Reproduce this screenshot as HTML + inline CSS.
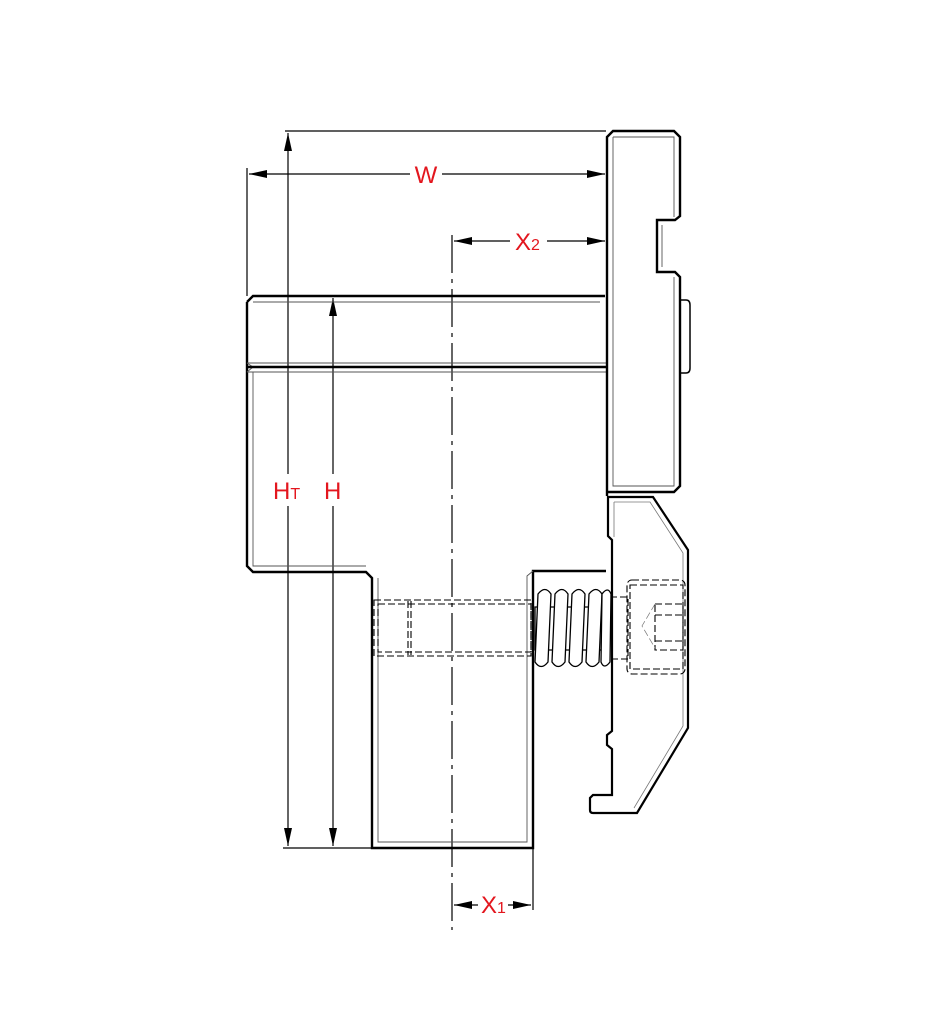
<!DOCTYPE html>
<html><head><style>
html,body{margin:0;padding:0;background:#fff;}
svg{display:block}
text{font-family:"Liberation Sans",sans-serif;fill:#e3161e;font-size:24px}
</style></head><body>
<svg width="936" height="1034" viewBox="0 0 936 1034" xmlns="http://www.w3.org/2000/svg">
<defs>
<marker id="a" viewBox="0 0 18 10" refX="18" refY="5" markerWidth="18" markerHeight="10" markerUnits="userSpaceOnUse" orient="auto-start-reverse"><path d="M0,1 L18,5 L0,9 Z" fill="#000"/></marker>
</defs>
<g fill="none" stroke="#000" stroke-width="1.2">
<line x1="285" y1="131" x2="606" y2="131"/>
<line x1="247" y1="168" x2="247" y2="296"/>
<line x1="283" y1="848" x2="372" y2="848"/>
<line x1="533" y1="848" x2="533" y2="910"/>
<line x1="452" y1="235" x2="452" y2="930" stroke-dasharray="38,6,4,6"/>
<line x1="249" y1="174" x2="410" y2="174" marker-start="url(#a)"/>
<line x1="442" y1="174" x2="605" y2="174" marker-end="url(#a)"/>
<line x1="454" y1="241" x2="510" y2="241" marker-start="url(#a)"/>
<line x1="547" y1="241" x2="605" y2="241" marker-end="url(#a)"/>
<line x1="288" y1="133" x2="288" y2="474" marker-start="url(#a)"/>
<line x1="288" y1="506" x2="288" y2="846" marker-end="url(#a)"/>
<line x1="333" y1="298" x2="333" y2="474" marker-start="url(#a)"/>
<line x1="333" y1="506" x2="333" y2="846" marker-end="url(#a)"/>
<line x1="454" y1="905" x2="478" y2="905" marker-start="url(#a)"/>
<line x1="508" y1="905" x2="531" y2="905" marker-end="url(#a)"/>
</g>
<g fill="none" stroke="#000">
<path d="M247,302 L253,296 L605,296 M247,302 L247,566 L253,572 L366,572 L372,578 L372,848 L533,848 L533,571 L606,571" stroke-width="2.4"/>
<path d="M253,302 L600,302 M247,363 L606,363 M247,372 L606,372 M253,372 L253,566 L366,566 M378,578 L378,842 L527,842 L527,576 L533,571 M247,363 L253,367 L247,372" stroke-width="0.9" stroke="#555"/>
<path d="M247,367 L606,367" stroke-width="2.4"/>
<path d="M607,496 L607,137 L613,131 L674,131 L680,137 L680,216 L675,220 L657,220 L657,272 L675,272 L680,277 L680,486 L674,492 L607,492" stroke-width="2.4"/>
<path d="M613,137 L674,137 L674,217 M662,225 L662,267 M674,277 L674,486 L613,486 L613,137" stroke-width="0.9" stroke="#555"/>
<path d="M680,300 L686,300 Q690,300 690,305 L690,368 Q690,373 686,373 L680,373" stroke-width="1.5"/>
<path d="M608,497 L653,497 L688,550 L688,728 L637,813 L593,813 Q590,813 590,810 L590,798 L593,795 L612,795 L612,749 L607,745 L607,735 L612,731 L612,540 L608,536 Z" stroke-width="2.2"/>
<path d="M614,502 L650,502 L683,553 L683,726 L634,808 M614,502 L614,537" stroke-width="0.8" stroke="#777"/>
<g stroke-dasharray="7,3" stroke-width="1.1">
<rect x="374" y="600" width="157" height="56"/>
<rect x="378" y="604" width="153" height="48"/>
<line x1="408" y1="601" x2="408" y2="655"/>
<line x1="411" y1="601" x2="411" y2="655"/>
<rect x="610" y="597" width="18" height="62"/>
<rect x="627" y="580" width="58" height="94" rx="5"/>
<rect x="630" y="585" width="53" height="84"/>
<rect x="655" y="604" width="28" height="46"/>
<line x1="655" y1="615" x2="683" y2="615"/>
<line x1="655" y1="641" x2="683" y2="641"/>
<path d="M655,604 L642,626 L655,648" stroke-width="0.7" stroke="#777"/>
</g>
<g stroke-width="1.3" fill="#fff">
<path d="M535,607 L608,607 L608,650 L535,650 Z" fill="none"/>
<path d="M538,594 q7,-9 13,0 l-3,68 q-7,9 -13,0 Z"/>
<path d="M555,594 q7,-9 13,0 l-3,68 q-7,9 -13,0 Z"/>
<path d="M572,594 q7,-9 13,0 l-3,68 q-7,9 -13,0 Z"/>
<path d="M589,594 q7,-9 13,0 l-3,68 q-7,9 -13,0 Z"/>
<path d="M602,594 q6,-8 9,0 l-1,68 q-6,8 -9,0 Z"/>
</g>
</g>
<text x="426" y="183" text-anchor="middle">W</text>
<text x="515" y="250">X<tspan font-size="16">2</tspan></text>
<text x="273" y="499">H<tspan font-size="16">T</tspan></text>
<text x="324" y="499">H</text>
<text x="481" y="913">X<tspan font-size="16">1</tspan></text>
</svg>
</body></html>
